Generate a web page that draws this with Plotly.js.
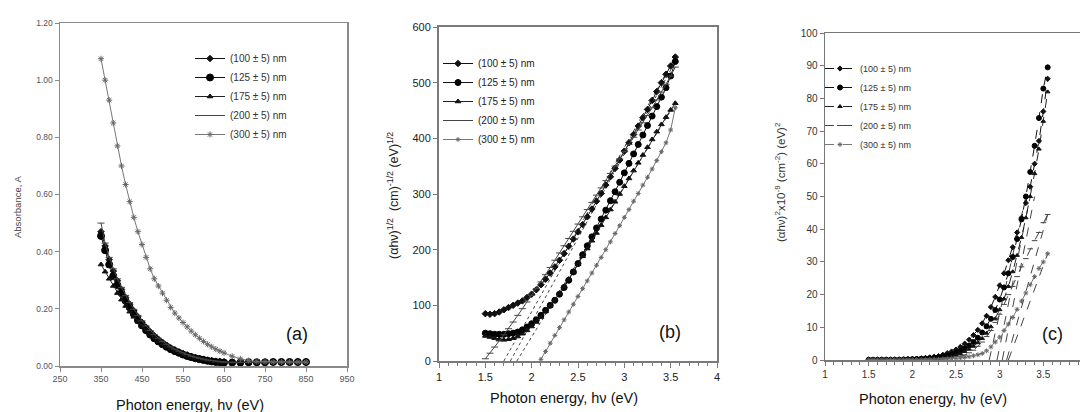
<!DOCTYPE html>
<html><head><meta charset="utf-8">
<script src="https://cdn.plot.ly/plotly-3.0.1.min.js"></script>
<style>html,body{margin:0;padding:0;background:#fff}#chart{width:1080px;height:412px}</style>
</head><body><div id="chart"></div>
<script>
// ---------- data ----------
const SERIES = ['(100 ± 5) nm','(125 ± 5) nm','(175 ± 5) nm','(200 ± 5) nm','(300 ± 5) nm'];

// panel (a)
const A_X = [350,360,370,380,390,400,410,420,430,440,450,460,470,480,490,500,510,520,530,540,550,560,570,580,590,600,610,620,630,640,650,670,690,710,730,750,770,790,810,830,850];
const A_100 = [0.47,0.42,0.372,0.332,0.298,0.268,0.24,0.216,0.193,0.172,0.153,0.136,0.12,0.106,0.094,0.083,0.073,0.064,0.057,0.05,0.044,0.039,0.034,0.03,0.027,0.024,0.021,0.019,0.017,0.016,0.015,0.014,0.014,0.013,0.013,0.013,0.013,0.013,0.013,0.013,0.013];
const A_125 = [0.455,0.405,0.355,0.315,0.283,0.255,0.228,0.205,0.182,0.16,0.142,0.125,0.11,0.097,0.086,0.076,0.067,0.059,0.052,0.046,0.04,0.035,0.031,0.027,0.024,0.021,0.018,0.016,0.014,0.013,0.012,0.012,0.012,0.013,0.013,0.013,0.014,0.014,0.014,0.014,0.014];
const A_175 = [0.355,0.33,0.305,0.28,0.255,0.232,0.21,0.19,0.172,0.155,0.139,0.124,0.11,0.098,0.087,0.077,0.068,0.06,0.053,0.047,0.041,0.036,0.032,0.028,0.025,0.022,0.019,0.017,0.015,0.014,0.013,0.012,0.012,0.012,0.012,0.012,0.012,0.012,0.012,0.012,0.012];
const A_200 = [0.50,0.43,0.38,0.34,0.305,0.275,0.247,0.222,0.198,0.177,0.158,0.14,0.124,0.11,0.097,0.086,0.076,0.067,0.059,0.052,0.046,0.04,0.035,0.031,0.027,0.024,0.021,0.019,0.017,0.015,0.014,0.013,0.013,0.013,0.013,0.013,0.013,0.013,0.013,0.013,0.013];
const A_300 = [1.075,1.0,0.93,0.85,0.77,0.70,0.635,0.575,0.52,0.47,0.425,0.38,0.34,0.305,0.28,0.255,0.23,0.205,0.185,0.168,0.152,0.137,0.122,0.109,0.097,0.086,0.076,0.067,0.059,0.052,0.046,0.034,0.025,0.019,0.016,0.015,0.014,0.014,0.014,0.014,0.014];
const A_XTICKS = [250,350,450,550,650,750,850,950];

// panel (b)
const B_X = [1.5,1.55,1.6,1.65,1.7,1.75,1.8,1.85,1.9,1.95,2.0,2.05,2.1,2.15,2.2,2.25,2.3,2.35,2.4,2.45,2.5,2.55,2.6,2.65,2.7,2.75,2.8,2.85,2.9,2.95,3.0,3.05,3.1,3.15,3.2,3.25,3.3,3.35,3.4,3.45,3.5,3.55];
const B_100 = [85,84,85,88,92,96,100,104,108,114,120,128,137,147,158,169,181,193,206,219,232,245,259,273,287,301,316,331,346,361,377,392,407,422,437,452,468,484,500,515,530,546];
const B_125 = [50,49,48,48,48,49,50,52,56,61,67,74,82,91,100,109,120,132,145,160,175,191,207,223,239,255,271,288,304,321,338,355,372,389,406,423,440,457,474,491,512,538];
const B_175 = [45,43,41,39,38,39,41,44,49,55,62,70,79,89,99,110,122,134,147,160,174,188,202,216,230,244,258,272,286,300,314,328,342,356,370,384,398,412,425,438,451,463];
const B_200 = [4,14,25,36,47,58,70,82,94,106,118,130,142,155,168,181,194,207,220,233,246,259,272,285,298,311,324,337,350,363,376,389,402,415,428,441,455,469,483,497,512,528];
const B_300 = [null,null,null,null,null,null,null,null,null,null,null,null,3,17,32,46,60,74,88,102,116,130,144,158,172,186,200,214,229,243,258,272,287,301,316,330,345,360,376,392,415,455];
const FITB_X0 = [1.70,1.77,1.84];
const FITB_X1 = [3.55,3.55,3.55];
const FITB_Y1 = [546,538,463];

// panel (c)
const C_X = B_X;
const C_100 = [0.1,0.1,0.1,0.1,0.1,0.1,0.15,0.15,0.2,0.25,0.3,0.4,0.5,0.6,0.8,1.0,1.2,1.6,2.1,2.6,3.2,4.0,5.0,6.2,7.6,9.2,11.2,13.5,16.2,19.3,22.8,26.5,30.5,34.5,39,43.5,48,53,60,67,76,86];
const C_125 = [0.1,0.1,0.1,0.1,0.1,0.1,0.1,0.1,0.15,0.2,0.25,0.3,0.35,0.45,0.55,0.65,0.7,1.0,1.3,1.7,2.2,2.8,3.5,4.4,5.5,6.8,8.4,10.3,12.6,15.3,18.5,22.2,26.5,31.5,37,43,50,57.5,65.5,74,83,89.5];
const C_175 = [0.05,0.05,0.05,0.05,0.05,0.05,0.05,0.05,0.1,0.1,0.15,0.2,0.25,0.3,0.35,0.4,0.5,0.7,0.9,1.2,1.5,2.0,2.6,3.3,4.2,5.3,6.6,8.2,10.2,12.6,15.4,18.7,22.5,27,32,37.5,43.5,50,57,64.5,73,82];
const C_200 = [0.05,0.05,0.05,0.05,0.05,0.05,0.05,0.05,0.05,0.05,0.1,0.1,0.15,0.2,0.25,0.3,0.4,0.5,0.6,0.8,1.0,1.2,1.5,2.2,3.0,4.2,5.5,7.2,9,11.5,14,17,20,22.5,25.5,28.5,31,34,36.5,39,42,44.5];
const C_300 = [0.05,0.05,0.05,0.05,0.05,0.05,0.05,0.05,0.05,0.05,0.05,0.1,0.1,0.1,0.15,0.2,0.2,0.25,0.3,0.4,0.5,0.6,0.8,1.0,1.3,1.6,2.0,2.8,4.0,5.5,7,9,11,13,15.5,18,20.5,23,25.5,28,30,32.5];
const FITC_X0 = [2.88,2.97,3.03,3.08,3.10];
const FITC_X1 = [3.3,3.35,3.4,3.55,3.55];
const FITC_Y1 = [50,50,50,44.5,32.5];

// ---------- styles ----------
const STY = [
  {symbol:'diamond', size:5, mcolor:'#111', lcolor:'#111'},
  {symbol:'circle', size:7, mcolor:'#000', lcolor:'#111'},
  {symbol:'triangle-up', size:5, mcolor:'#111', lcolor:'#222'},
  {symbol:'line-ew-open', size:5, mcolor:'#444', lcolor:'#444'},
  {symbol:'asterisk-open', size:5, mcolor:'#666', lcolor:'#777'}
];
const FONT = 'Liberation Sans, Arial, sans-serif';

function series(x, y, i, xa, ya, leg, dash, msize){
  const s = STY[i];
  return {type:'scatter', mode:'lines+markers', x:x, y:y, name:SERIES[i],
    xaxis:xa, yaxis:ya, legend:leg, cliponaxis:true,
    line:{color:s.lcolor, width:1, dash:dash||'solid'},
    marker:{symbol:s.symbol, size:msize?msize[i]:s.size, color:s.mcolor, line:{color:s.mcolor, width:1}}};
}
function fit(x0, x1, y1, xa, ya, dash){
  return {type:'scatter', mode:'lines', x:[x0,x1], y:[0,y1], xaxis:xa, yaxis:ya,
    showlegend:false, hoverinfo:'skip', line:{color:'#444', width:1, dash:dash}};
}

const A_Y = [A_100,A_125,A_175,A_200,A_300];
const B_Y = [B_100,B_125,B_175,B_200,B_300];
const C_Y = [C_100,C_125,C_175,C_200,C_300];

const traces = [];
A_Y.forEach((y,i)=>traces.push(series(A_X,y,i,'x','y','legend')));
FITB_X0.forEach((x0,i)=>traces.push(fit(x0,FITB_X1[i],FITB_Y1[i],'x2','y2','dot')));
B_Y.forEach((y,i)=>traces.push(series(B_X,y,i,'x2','y2','legend2',null,[5,6,5,5,4])));
FITC_X0.forEach((x0,i)=>traces.push(fit(x0,FITC_X1[i],FITC_Y1[i],'x3','y3','dash')));
C_Y.forEach((y,i)=>traces.push(series(C_X,y,i,'x3','y3','legend3','dash',[4,5,4,4,4])));

const W=1080, H=412;
const px = v => v/W, py = v => 1 - v/H;

function axisBase(color, width){
  return {showgrid:false, zeroline:false, showline:true, linecolor:color, linewidth:width,
    ticks:'outside', tickcolor:color, ticklen:4, tickwidth:1, fixedrange:true};
}
function ann(text, x, y, size, color, angle){
  return {text:text, x:px(x), y:py(y), xref:'paper', yref:'paper', xanchor:'center', yanchor:'middle',
    showarrow:false, textangle:angle||0, font:{size:size, color:color, family:FONT}};
}

const layout = {
  width:W, height:H, margin:{l:0,r:0,t:0,b:0},
  paper_bgcolor:'#fff', plot_bgcolor:'#fff', showlegend:true,
  font:{family:FONT, color:'#333'},
  xaxis: Object.assign(axisBase('#8a8a8a',1.5), {domain:[px(60),px(347)], anchor:'y', range:[250,950],
    tickvals:A_XTICKS, mirror:true, tickfont:{size:9, color:'#555'}}),
  yaxis: Object.assign(axisBase('#8a8a8a',1.5), {domain:[py(366),py(23)], anchor:'x', range:[0,1.2],
    dtick:0.2, tickformat:'.2f', mirror:true, tickfont:{size:8.5, color:'#555'}}),
  xaxis2: Object.assign(axisBase('#7a7a7a',2), {domain:[px(439),px(717)], anchor:'y2', range:[1,4],
    dtick:0.5, mirror:true, ticklen:5, tickfont:{size:11, color:'#222'},
    minor:{dtick:0.1, ticks:'outside', ticklen:3, tickcolor:'#7a7a7a'}}),
  yaxis2: Object.assign(axisBase('#7a7a7a',2), {domain:[py(361),py(27)], anchor:'x2', range:[0,600],
    dtick:100, mirror:true, tickfont:{size:11, color:'#222'}}),
  xaxis3: Object.assign(axisBase('#777',1.5), {domain:[px(825),1], anchor:'y3', range:[1,3.92],
    dtick:0.5, mirror:true, ticklen:4, tickfont:{size:10, color:'#333'},
    minor:{dtick:0.1, ticks:'outside', ticklen:3, tickcolor:'#777'}}),
  yaxis3: Object.assign(axisBase('#777',1.5), {domain:[py(360),py(33)], anchor:'x3', range:[0,100],
    dtick:10, mirror:false, tickfont:{size:10, color:'#333'}}),
  legend: {x:px(190), y:py(44), xanchor:'left', yanchor:'top', bgcolor:'rgba(0,0,0,0)',
    font:{size:10, color:'#333', family:FONT}, itemwidth:30, itemclick:false},
  legend2: {x:px(438), y:py(49), xanchor:'left', yanchor:'top', bgcolor:'rgba(0,0,0,0)',
    font:{size:10, color:'#222', family:FONT}, itemwidth:30, itemclick:false},
  legend3: {x:px(820), y:py(54), xanchor:'left', yanchor:'top', bgcolor:'rgba(0,0,0,0)',
    font:{size:9, color:'#333', family:FONT}, itemwidth:30, itemclick:false},
  annotations: [
    ann('Photon energy, hν (eV)', 190, 405, 14.5, '#111'),
    ann('Photon energy, hν (eV)', 564, 398, 14.5, '#111'),
    ann('Photon energy, hν (eV)', 933, 399, 14.5, '#111'),
    ann('Absorbance, A', 17, 207, 9.5, '#444', -90),
    ann('(αhν)<sup>1/2</sup>  (cm)<sup>-1/2</sup> (eV)<sup>1/2</sup>', 393, 196, 12.5, '#222', -90),
    ann('(αhν)<sup>2</sup>x10<sup>-9</sup> (cm<sup>-2</sup>) (eV)<sup>2</sup>', 780, 182, 11.5, '#333', -90),
    ann('(a)', 297, 334, 18, '#111'),
    ann('(b)', 670, 332, 18, '#111'),
    ann('(c)', 1052, 334, 18, '#111')
  ]
};

Plotly.newPlot('chart', traces, layout, {displayModeBar:false, staticPlot:true});
</script></body></html>
